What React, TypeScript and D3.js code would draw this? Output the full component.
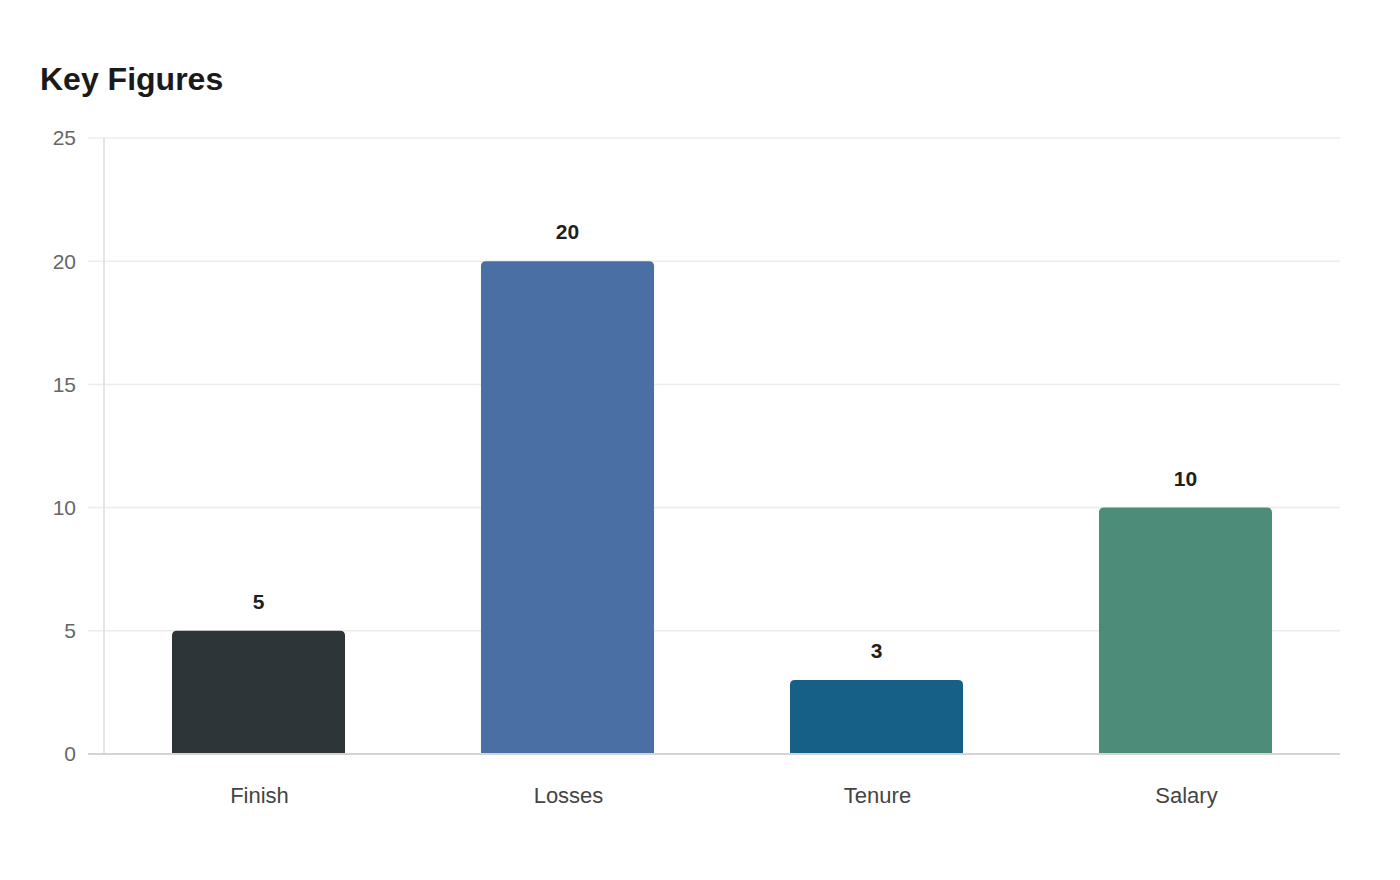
import React, { useEffect } from 'react';
import * as d3 from 'd3';

const CATEGORIES = ['Finish', 'Losses', 'Tenure', 'Salary'];
const VALUES = [5, 20, 3, 10];
const BAR_COLORS = ['#2d3538', '#4a6fa5', '#166088', '#4e8c7a'];
const Y_TICKS = [0, 5, 10, 15, 20, 25];

const WIDTH = 1400;
const HEIGHT = 880;
const margin = { top: 138, right: 60, bottom: 126, left: 104 };
const FONT = '"Liberation Sans", Arial, Helvetica, sans-serif';

// bar with rounded top corners only
const topRoundedBar = (x: number, y: number, w: number, h: number, r: number) => {
  const rr = Math.min(r, h, w / 2);
  return `M${x},${y + h}V${y + rr}Q${x},${y} ${x + rr},${y}H${x + w - rr}Q${x + w},${y} ${x + w},${y + rr}V${y + h}Z`;
};

export default function App() {
  useEffect(() => {
    document.body.style.margin = '0';
  }, []);

  const innerWidth = WIDTH - margin.left - margin.right;
  const innerHeight = HEIGHT - margin.top - margin.bottom;

  const xScale = d3.scaleBand<string>()
    .domain(CATEGORIES)
    .range([0, innerWidth])
    .paddingInner(0.44)
    .paddingOuter(0.22);

  const yScale = d3.scaleLinear()
    .domain([0, 25])
    .range([innerHeight, 0]);

  return (
    <svg width={WIDTH} height={HEIGHT} style={{ display: 'block', background: '#fff', fontFamily: FONT }}>
      <text x={40} y={90} fontSize={32} fontWeight="bold" fill="#1a1a1a">Key Figures</text>
      <g transform={`translate(${margin.left},${margin.top})`}>
        {/* grid lines + y ticks */}
        {Y_TICKS.map(t => (
          <g key={t}>
            <line x1={-16} x2={innerWidth} y1={yScale(t)} y2={yScale(t)} stroke="#ececec" strokeWidth={1.5} />
            <text x={-28} y={yScale(t)} dy="0.35em" textAnchor="end" fontSize={21} fill="#666">{t}</text>
          </g>
        ))}
        {/* y axis line */}
        <line x1={0} x2={0} y1={0} y2={innerHeight} stroke="#dcdcdc" strokeWidth={1.5} />

        {/* bars */}
        {CATEGORIES.map((c, i) => {
          const x = xScale(c) ?? 0;
          const y = yScale(VALUES[i]);
          const h = innerHeight - y;
          const cx = x + xScale.bandwidth() / 2;
          return (
            <g key={c}>
              <path d={topRoundedBar(x, y, xScale.bandwidth(), h, 5)} fill={BAR_COLORS[i]} />
              <text x={cx} y={y - 22} textAnchor="middle" fontSize={21} fontWeight="bold" fill="#1f1f1f">{VALUES[i]}</text>
              <text x={cx + 1} y={innerHeight + 49} textAnchor="middle" fontSize={22} fill="#444">{c}</text>
            </g>
          );
        })}

        {/* x axis line */}
        <line x1={-16} x2={innerWidth} y1={innerHeight} y2={innerHeight} stroke="#d4d4d4" strokeWidth={2} />
      </g>
    </svg>
  );
}
